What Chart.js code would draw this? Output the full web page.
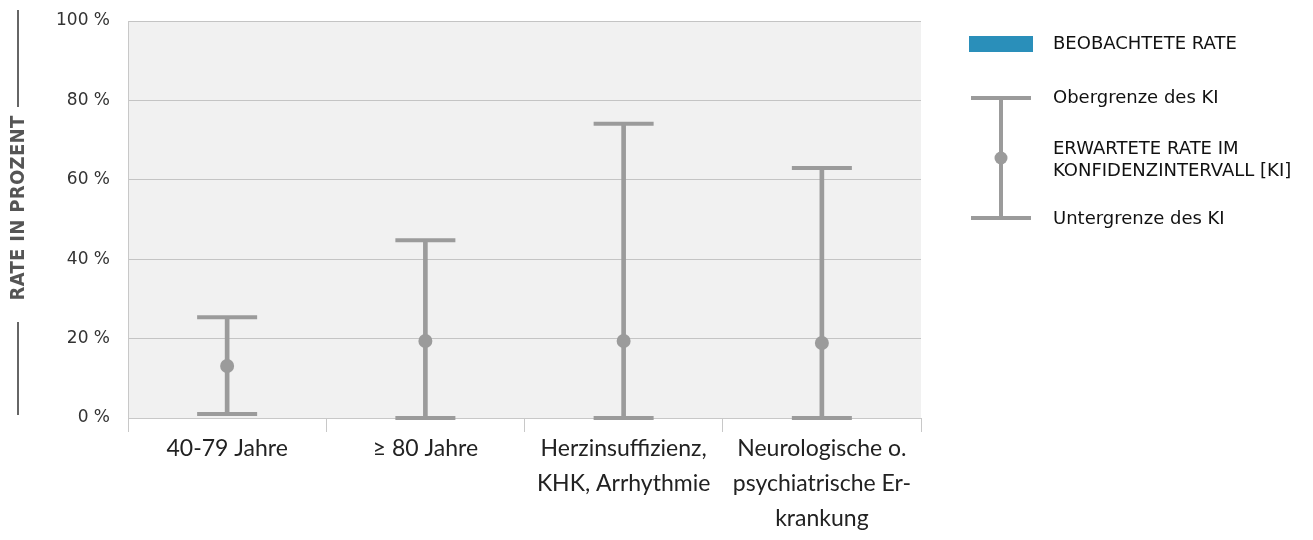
<!DOCTYPE html>
<html>
<head>
<meta charset="utf-8">
<script src="https://cdn.jsdelivr.net/npm/chart.js@4/dist/chart.umd.min.js"></script>
<style>
  html, body { margin: 0; padding: 0; background: #ffffff; }
  #wrap { width: 1313px; height: 540px; position: relative; }
</style>
</head>
<body>
<div id="wrap"><canvas id="rateChart"></canvas></div>
<script>
// categories and values
const categories = [
    ['40-79 Jahre'],
    ['≥ 80 Jahre'],
    ['Herzinsuffizienz,', 'KHK, Arrhythmie'],
    ['Neurologische o.', 'psychiatrische Er-', 'krankung']
];
const observedRate = [0, 0, 0, 0];
const expectedRate = [13.1, 19.4, 19.4, 18.9];
const ciLower = [1.0, 0, 0, 0];
const ciUpper = [25.4, 44.8, 74.1, 63.0];
const yTicks = [0, 20, 40, 60, 80, 100];

const grey = '#9b9b9b';
const blue = '#2a8fba';

// grey plot background
const plotBackground = {
    id: 'plotBackground',
    beforeDraw(chart) {
        const { ctx, chartArea: a } = chart;
        ctx.save();
        ctx.fillStyle = '#f1f1f1';
        ctx.fillRect(a.left, a.top, a.right - a.left, a.bottom - a.top);
        ctx.restore();
    }
};

// rotated axis title with lines above and below
const axisTitle = {
    id: 'axisTitle',
    afterDraw(chart) {
        const ctx = chart.ctx;
        ctx.save();
        ctx.strokeStyle = '#666';
        ctx.lineWidth = 2;
        ctx.beginPath();
        ctx.moveTo(18, 10); ctx.lineTo(18, 107);
        ctx.moveTo(18, 322); ctx.lineTo(18, 415);
        ctx.stroke();
        ctx.translate(19, 208);
        ctx.rotate(-Math.PI / 2);
        ctx.font = 'bold 20px "DejaVu Sans Condensed", "DejaVu Sans"';
        ctx.fillStyle = '#555';
        ctx.textAlign = 'center';
        ctx.textBaseline = 'middle';
        const txt = 'RATE IN PROZENT';
        const w = ctx.measureText(txt).width;
        if (w < 185) ctx.letterSpacing = ((185 - w) / txt.length).toFixed(2) + 'px';
        ctx.fillText(txt, 0, 0, 186);
        ctx.restore();
    }
};

// custom legend on the right
const sideLegend = {
    id: 'sideLegend',
    afterDraw(chart) {
        const ctx = chart.ctx;
        ctx.save();
        ctx.fillStyle = blue;
        ctx.fillRect(969, 36, 64, 16);

        ctx.strokeStyle = grey;
        ctx.lineWidth = 4;
        ctx.beginPath();
        ctx.moveTo(971, 98); ctx.lineTo(1031, 98);
        ctx.moveTo(971, 218); ctx.lineTo(1031, 218);
        ctx.moveTo(1001, 98); ctx.lineTo(1001, 218);
        ctx.stroke();
        ctx.fillStyle = grey;
        ctx.beginPath();
        ctx.arc(1001, 158, 6.5, 0, Math.PI * 2);
        ctx.fill();

        ctx.fillStyle = '#111';
        ctx.font = '18px "DejaVu Sans"';
        ctx.textBaseline = 'middle';
        ctx.fillText('BEOBACHTETE RATE', 1053, 44);
        ctx.fillText('Obergrenze des KI', 1053, 98);
        ctx.fillText('ERWARTETE RATE IM', 1053, 149);
        ctx.fillText('KONFIDENZINTERVALL [KI]', 1053, 171);
        ctx.fillText('Untergrenze des KI', 1053, 219);
        ctx.restore();
    }
};

const whisker = (data) => ({
    type: 'line',
    data: data,
    showLine: false,
    pointStyle: 'line',
    pointRadius: 30,
    pointBorderWidth: 4,
    pointBorderColor: grey,
    borderColor: grey,
    clip: false,
    order: 1
});

new Chart(document.getElementById('rateChart').getContext('2d'), {
    data: {
        labels: categories,
        datasets: [
            {
                type: 'bar',
                label: 'BEOBACHTETE RATE',
                data: observedRate,
                backgroundColor: blue,
                borderWidth: 0,
                grouped: false,
                categoryPercentage: 0.5,
                order: 5
            },
            {
                type: 'bar',
                label: 'KI',
                data: ciLower.map((l, i) => [l, ciUpper[i]]),
                backgroundColor: grey,
                borderWidth: 0,
                barThickness: 4,
                grouped: false,
                order: 2
            },
            whisker(ciUpper),
            whisker(ciLower),
            {
                type: 'line',
                label: 'ERWARTETE RATE',
                data: expectedRate,
                showLine: false,
                pointStyle: 'circle',
                pointRadius: 7,
                pointBackgroundColor: grey,
                pointBorderWidth: 0,
                clip: false,
                order: 0
            }
        ]
    },
    options: {
        responsive: true,
        maintainAspectRatio: false,
        animation: false,
        events: [],
        layout: { autoPadding: false, padding: { top: 21, right: 392, left: 0, bottom: 0 } },
        plugins: {
            legend: { display: false },
            tooltip: { enabled: false }
        },
        scales: {
            x: {
                offset: true,
                grid: {
                    offset: true,
                    drawOnChartArea: false,
                    drawTicks: true,
                    tickLength: 14,
                    color: '#c8c8c8'
                },
                border: { display: true, color: '#c8c8c8' },
                ticks: {
                    color: '#222',
                    padding: -1,
                    maxRotation: 0,
                    autoSkip: false,
                    font: { family: 'Lato', size: 23, lineHeight: 1.52 }
                },
                afterFit(scale) {
                    scale.height = 122;
                    scale.paddingLeft = 0;
                    scale.paddingRight = 0;
                }
            },
            y: {
                min: 0,
                max: 100,
                afterBuildTicks(scale) { scale.ticks = yTicks.map(v => ({ value: v })); },
                grid: { color: '#c4c4c4', drawTicks: false },
                border: { display: true, color: '#c8c8c8' },
                ticks: {
                    color: '#333',
                    padding: 18,
                    font: { family: 'DejaVu Sans', size: 17 },
                    callback: v => v + ' %'
                },
                afterFit(scale) {
                    scale.width = 128;
                    scale.paddingTop = 0;
                    scale.paddingBottom = 0;
                }
            }
        }
    },
    plugins: [plotBackground, axisTitle, sideLegend]
});
</script>
</body>
</html>
